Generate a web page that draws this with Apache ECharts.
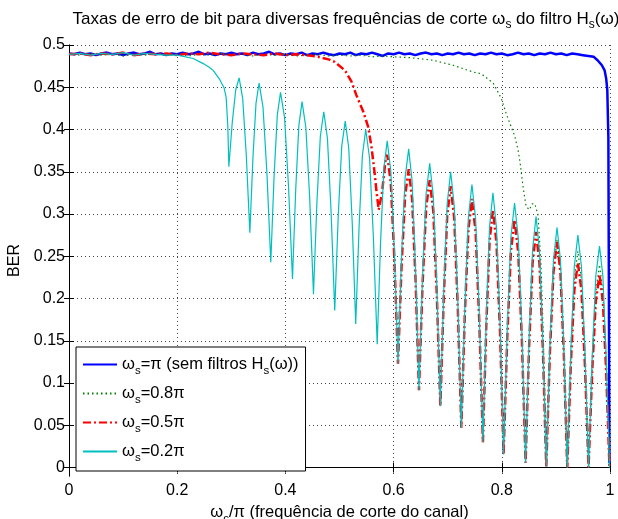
<!DOCTYPE html>
<html><head><meta charset="utf-8">
<script src="https://cdn.jsdelivr.net/npm/echarts@6/dist/echarts.min.js"></script>
<style>html,body{margin:0;padding:0;background:#fff}#c{width:618px;height:519px}</style>
</head><body><div id="c"></div>
<script>
// ---- data ----
const xTicks = [0, 0.2, 0.4, 0.6, 0.8, 1];
const yTicks = [0, 0.05, 0.1, 0.15, 0.2, 0.25, 0.3, 0.35, 0.4, 0.45, 0.5];
const seriesNames = ['pi', '0.8pi', '0.5pi', '0.2pi'];
const legendLabels = [
  '{a|ω}{s|s}{a|=π (sem filtros H}{s|s}{a|(ω))}',
  '{a|ω}{s|s}{a|=0.8π}',
  '{a|ω}{s|s}{a|=0.5π}',
  '{a|ω}{s|s}{a|=0.2π}'
];
const berPi = [
  [0,0.490],[0.01,0.489],[0.02,0.491],[0.03,0.489],[0.04,0.490],[0.05,0.488],[0.06,0.490],[0.07,0.491],[0.08,0.489],[0.09,0.490],
  [0.10,0.488],[0.11,0.490],[0.12,0.491],[0.13,0.489],[0.14,0.490],[0.15,0.492],[0.16,0.489],[0.17,0.490],[0.18,0.488],[0.19,0.490],
  [0.20,0.489],[0.21,0.491],[0.22,0.489],[0.23,0.490],[0.24,0.492],[0.25,0.489],[0.26,0.490],[0.27,0.488],[0.28,0.490],[0.29,0.489],
  [0.30,0.491],[0.31,0.489],[0.32,0.490],[0.33,0.488],[0.34,0.491],[0.35,0.489],[0.36,0.490],[0.37,0.492],[0.38,0.489],[0.39,0.490],
  [0.40,0.488],[0.41,0.490],[0.42,0.489],[0.43,0.491],[0.44,0.488],[0.45,0.490],[0.46,0.489],[0.47,0.491],[0.48,0.489],[0.49,0.488],
  [0.50,0.490],[0.51,0.489],[0.52,0.491],[0.53,0.488],[0.54,0.490],[0.55,0.489],[0.56,0.491],[0.57,0.489],[0.58,0.487],[0.59,0.490],
  [0.60,0.489],[0.61,0.491],[0.62,0.489],[0.63,0.490],[0.64,0.488],[0.65,0.490],[0.66,0.491],[0.67,0.489],[0.68,0.490],[0.69,0.488],
  [0.70,0.490],[0.71,0.489],[0.72,0.491],[0.73,0.489],[0.74,0.490],[0.75,0.488],[0.76,0.490],[0.77,0.489],[0.78,0.491],[0.79,0.489],
  [0.80,0.490],[0.81,0.488],[0.82,0.489],[0.83,0.491],[0.84,0.489],[0.85,0.490],[0.86,0.488],[0.87,0.490],[0.88,0.489],[0.89,0.491],
  [0.90,0.489],[0.91,0.490],[0.92,0.488],[0.93,0.490],[0.94,0.489],[0.95,0.488],[0.96,0.487],[0.97,0.486],
  [0.977,0.482],[0.985,0.476],[0.99,0.470],[0.993,0.460],[0.995,0.447],[0.997,0.390],[0.998,0.200],[0.999,0.005]
];
const ber08 = [
  [0,0.489],[0.02,0.488],[0.04,0.490],[0.06,0.488],[0.08,0.489],[0.10,0.487],[0.12,0.489],[0.14,0.488],[0.16,0.490],[0.18,0.488],
  [0.20,0.489],[0.22,0.487],[0.24,0.489],[0.26,0.488],[0.28,0.490],[0.30,0.488],[0.32,0.489],[0.34,0.487],[0.36,0.489],[0.38,0.488],
  [0.40,0.489],[0.42,0.487],[0.44,0.488],[0.46,0.489],[0.48,0.487],[0.50,0.488],[0.52,0.487],[0.54,0.488],[0.56,0.486],[0.58,0.487],
  [0.60,0.486],[0.63,0.485],[0.673,0.482],[0.71,0.476],[0.747,0.468],[0.762,0.466],[0.784,0.455],[0.799,0.437],[0.808,0.419],
  [0.8175,0.403],[0.824,0.392],[0.83,0.376],[0.834,0.360],[0.837,0.344],[0.84,0.329],[0.845,0.309],[0.851,0.305],[0.856,0.312],
  [0.861,0.312],[0.867,0.299],[0.8725,0.240],[0.877,0.150],[0.880,0.070],[0.8822,0.002],
  [0.8888,0.136],[0.8955,0.234],[0.9021,0.270],[0.9084,0.234],[0.9147,0.135],[0.921,0.0],
  [0.9275,0.128],[0.9341,0.222],[0.9406,0.256],[0.9472,0.222],[0.9537,0.128],[0.9603,0.0],
  [0.9671,0.120],[0.9738,0.208],[0.9806,0.240],[0.9868,0.208],[0.9929,0.120],[0.9991,0.0]
];
const ber05 = [
  [0,0.489],[0.02,0.490],[0.04,0.488],[0.06,0.490],[0.08,0.489],[0.10,0.491],[0.12,0.488],[0.14,0.490],[0.16,0.489],[0.18,0.490],
  [0.20,0.488],[0.22,0.490],[0.24,0.489],[0.26,0.491],[0.28,0.489],[0.30,0.488],[0.32,0.490],[0.34,0.489],[0.36,0.488],[0.38,0.490],
  [0.40,0.488],[0.42,0.489],[0.44,0.488],[0.46,0.486],[0.48,0.483],[0.491,0.480],[0.51,0.470],[0.522,0.457],[0.531,0.441],
  [0.544,0.421],[0.553,0.403],[0.559,0.380],[0.565,0.348],[0.568,0.329],[0.5725,0.305],[0.575,0.303],[0.5785,0.325],[0.5855,0.366],
  [0.5882,0.370],[0.5948,0.337],[0.6015,0.2465],[0.6081,0.123],
  [0.6147,0.238],[0.6213,0.322],[0.6279,0.353],[0.6342,0.318],[0.6406,0.222],[0.6469,0.0914],
  [0.6535,0.216],[0.6601,0.307],[0.6667,0.340],[0.6733,0.304],[0.6798,0.206],[0.6864,0.0725],
  [0.6928,0.203],[0.6991,0.298],[0.7055,0.333],[0.7121,0.295],[0.7186,0.190],[0.7252,0.047],
  [0.7317,0.1825],[0.7383,0.282],[0.7448,0.318],[0.7516,0.279],[0.7583,0.174],[0.7651,0.030],
  [0.7713,0.1675],[0.7774,0.268],[0.7836,0.305],[0.7902,0.266],[0.7967,0.160],[0.8033,0.0154],
  [0.8101,0.154],[0.8168,0.256],[0.8236,0.293],[0.8304,0.2545],[0.8372,0.149],[0.8440,0.0055],
  [0.8504,0.142],[0.8569,0.242],[0.8633,0.279],[0.8696,0.242],[0.8759,0.140],[0.8822,0.0006],
  [0.8888,0.134],[0.8955,0.231],[0.9021,0.267],[0.9084,0.231],[0.9147,0.1335],[0.921,0.0],
  [0.9275,0.121],[0.9341,0.210],[0.9406,0.242],[0.9472,0.210],[0.9537,0.121],[0.9603,0.0],
  [0.9671,0.114],[0.9738,0.197],[0.9806,0.228],[0.9868,0.197],[0.9929,0.114],[0.9991,0.0]
];
const ber02 = [
  [0,0.489],[0.02,0.490],[0.04,0.488],[0.06,0.490],[0.08,0.489],[0.10,0.491],[0.12,0.488],[0.14,0.490],[0.16,0.489],[0.18,0.488],
  [0.20,0.488],[0.2296,0.484],[0.248,0.478],[0.2585,0.474],[0.2665,0.470],[0.270,0.468],[0.2788,0.459],[0.2868,0.449],
  [0.2905,0.438],[0.2935,0.405],[0.2955,0.356],
  [0.3018,0.4085],[0.3082,0.447],[0.3145,0.461],[0.3211,0.4365],[0.3277,0.3695],[0.3343,0.278],
  [0.3400,0.3665],[0.3457,0.4313],[0.3514,0.455],[0.3586,0.4266],[0.3658,0.349],[0.3730,0.243],
  [0.3790,0.3435],[0.3850,0.417],[0.3910,0.444],[0.3984,0.4144],[0.4057,0.3335],[0.4131,0.223],
  [0.4190,0.328],[0.4249,0.4049],[0.4308,0.433],[0.4378,0.4024],[0.4449,0.319],[0.4519,0.205],
  [0.4582,0.313],[0.4646,0.392],[0.4709,0.421],[0.4777,0.3895],[0.4844,0.3035],[0.4912,0.186],
  [0.4977,0.298],[0.5041,0.380],[0.5106,0.410],[0.5171,0.3778],[0.5235,0.290],[0.5300,0.170],
  [0.5362,0.285],[0.5423,0.3692],[0.5485,0.400],[0.5556,0.366],[0.5626,0.273],[0.5697,0.146],
  [0.5759,0.266],[0.5820,0.3543],[0.5882,0.3865],[0.5948,0.3512],[0.6015,0.2548],[0.6081,0.123],
  [0.6147,0.250],[0.6213,0.343],[0.6279,0.377],[0.6342,0.3387],[0.6406,0.2342],[0.6469,0.0914],
  [0.6535,0.2257],[0.6601,0.324],[0.6667,0.360],[0.6733,0.3215],[0.6798,0.2163],[0.6864,0.0725],
  [0.6928,0.2113],[0.6991,0.3128],[0.7055,0.350],[0.7121,0.3094],[0.7186,0.1985],[0.7252,0.047],
  [0.7317,0.191],[0.7383,0.2964],[0.7448,0.335],[0.7516,0.2941],[0.7583,0.1825],[0.7651,0.030],
  [0.7713,0.1775],[0.7774,0.2855],[0.7836,0.325],[0.7902,0.2835],[0.7967,0.1702],[0.8033,0.0154],
  [0.8101,0.1642],[0.8168,0.2731],[0.8236,0.313],[0.8304,0.2718],[0.8372,0.1593],[0.8440,0.0055],
  [0.8504,0.1513],[0.8569,0.2579],[0.8633,0.297],[0.8696,0.2573],[0.8759,0.1488],[0.8822,0.0006],
  [0.8888,0.1423],[0.8955,0.246],[0.9021,0.284],[0.9084,0.2459],[0.9147,0.142],[0.9210,0.0],
  [0.9275,0.1375],[0.9341,0.2382],[0.9406,0.275],[0.9472,0.2382],[0.9537,0.1375],[0.9603,0.0],
  [0.9671,0.131],[0.9738,0.2269],[0.9806,0.262],[0.9868,0.2269],[0.9929,0.131],[0.9991,0.0]
];
// ---- chart ----
const FONT = '"Liberation Sans", Arial, Helvetica, sans-serif';
const chart = echarts.init(document.getElementById('c'), null, {renderer: 'canvas'});
const richTxt = {
  a: {fontSize: 16.5, fontFamily: FONT, color: '#000', lineHeight: 20},
  s: {fontSize: 11.5, fontFamily: FONT, color: '#000', verticalAlign: 'bottom', padding: [13, 0, 0, 0]}
};
const dotted = {type: [1, 3], color: '#444', width: 1};
const colors = ['#0000ff', '#008000', '#ff0000', '#00bfbf'];
const styles = [
  {width: 2.5, type: 'solid'},
  {width: 1.2, type: [1.5, 3]},
  {width: 2.5, type: [8, 3, 2, 3]},
  {width: 1.2, type: 'solid'}
];
const datasets = [berPi, ber08, ber05, ber02];
const option = {
  animation: false,
  backgroundColor: '#fff',
  title: {
    text: '{a|Taxas de erro de bit para diversas frequências de corte }{a|ω}{s|s}{a| do filtro H}{s|s}{a|(ω)}',
    left: 341, top: 2, textAlign: 'center',
    textStyle: {fontWeight: 'normal', rich: {
      a: {fontSize: 17, fontFamily: FONT, color: '#000', lineHeight: 20, fontWeight: 'normal'},
      s: {fontSize: 12, fontFamily: FONT, color: '#000', verticalAlign: 'bottom', padding: [12, 0, 0, 0], fontWeight: 'normal'}
    }}
  },
  grid: {left: 69, right: 8, top: 45, bottom: 43, outerBoundsMode: 'none', containLabel: false},
  legend: {
    orient: 'vertical', left: 76, top: 347,
    data: seriesNames,
    formatter: n => legendLabels[seriesNames.indexOf(n)],
    itemWidth: 34, itemHeight: 12, itemGap: 8,
    padding: [9, 7, 7, 6],
    itemStyle: {opacity: 0},
    borderColor: '#000', borderWidth: 1, backgroundColor: '#fff',
    textStyle: {rich: richTxt}
  },
  xAxis: [{
    type: 'value', min: 0, max: 1, interval: 0.2, position: 'bottom',
    axisLine: {lineStyle: {color: '#000', width: 1}},
    axisTick: {inside: true, length: 5, lineStyle: {color: '#000'}},
    axisLabel: {color: '#000', fontSize: 16, fontFamily: FONT, margin: 7,
      formatter: v => String(xTicks.find(t => Math.abs(t - v) < 1e-9) ?? v)},
    splitLine: {show: true, lineStyle: dotted},
    name: '{a|ω}{s|c}{a|/π (frequência de corte do canal)}',
    nameLocation: 'middle', nameGap: 21,
    nameTextStyle: {rich: richTxt}
  }, {
    type: 'value', min: 0, max: 1, interval: 0.2, position: 'top',
    axisLine: {lineStyle: {color: '#000', width: 1}},
    axisTick: {inside: true, length: 5, lineStyle: {color: '#000'}},
    axisLabel: {show: false}, splitLine: {show: false}
  }],
  yAxis: [{
    type: 'value', min: -0.01, max: 0.5, position: 'left',
    axisLine: {show: true, lineStyle: {color: '#000', width: 1}},
    axisTick: {show: true, inside: true, length: 5, customValues: yTicks, lineStyle: {color: '#000'}},
    axisLabel: {color: '#000', fontSize: 16, fontFamily: FONT, margin: 4, customValues: yTicks,
      formatter: v => String(yTicks.find(t => Math.abs(t - v) < 1e-9) ?? v)},
    splitLine: {show: true, lineStyle: dotted},
    name: 'BER', nameLocation: 'middle', nameGap: 41,
    nameTextStyle: {color: '#000', fontSize: 16, fontFamily: FONT}
  }, {
    type: 'value', min: -0.01, max: 0.5, position: 'right',
    axisLine: {show: true, lineStyle: {color: '#000', width: 1}},
    axisTick: {show: true, inside: true, length: 5, customValues: yTicks, lineStyle: {color: '#000'}},
    axisLabel: {show: false}, splitLine: {show: false}
  }],
  series: seriesNames.map((n, i) => ({
    name: n, type: 'line', xAxisIndex: 0, yAxisIndex: 0,
    data: datasets[i], showSymbol: false, symbol: 'none', clip: true,
    color: colors[i],
    lineStyle: Object.assign({color: colors[i]}, styles[i])
  }))
};
chart.setOption(option);
</script></body></html>
